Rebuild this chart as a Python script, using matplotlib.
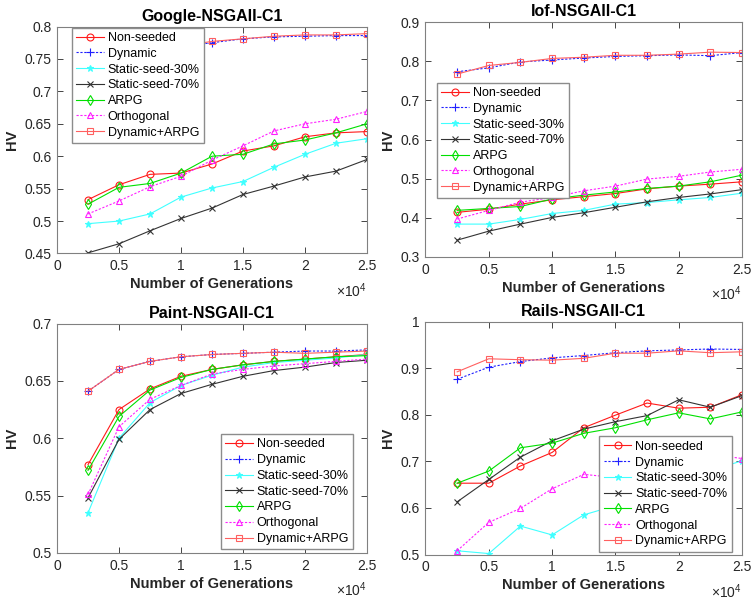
import matplotlib
matplotlib.use('Agg')
import matplotlib.pyplot as plt
from matplotlib.ticker import FuncFormatter

plt.rcParams['font.family'] = ['Liberation Sans', 'DejaVu Sans']
plt.rcParams['mathtext.fontset'] = 'custom'
plt.rcParams['mathtext.rm'] = 'Liberation Sans'
plt.rcParams['mathtext.it'] = 'Liberation Sans:italic'

# ---- data -------------------------------------------------------------
generations = [2500, 5000, 7500, 10000, 12500, 15000, 17500, 20000, 22500, 25000]
series_names = ['Non-seeded', 'Dynamic', 'Static-seed-30%', 'Static-seed-70%',
                'ARPG', 'Orthogonal', 'Dynamic+ARPG']

google_non_seeded = [0.533, 0.556, 0.572, 0.574, 0.588, 0.608, 0.616, 0.630, 0.636, 0.638]
google_dynamic = [0.735, 0.752, 0.762, 0.769, 0.775, 0.781, 0.784, 0.785, 0.786, 0.786]
google_static30 = [0.496, 0.500, 0.511, 0.537, 0.551, 0.561, 0.583, 0.603, 0.620, 0.627]
google_static70 = [0.451, 0.465, 0.485, 0.504, 0.520, 0.541, 0.554, 0.568, 0.577, 0.595]
google_arpg = [0.526, 0.552, 0.558, 0.574, 0.600, 0.603, 0.619, 0.625, 0.636, 0.650]
google_orthogonal = [0.511, 0.531, 0.553, 0.569, 0.594, 0.616, 0.639, 0.650, 0.657, 0.669]
google_dyn_arpg = [0.738, 0.754, 0.764, 0.770, 0.777, 0.781, 0.785, 0.787, 0.787, 0.789]

iof_non_seeded = [0.414, 0.422, 0.435, 0.446, 0.454, 0.462, 0.474, 0.481, 0.486, 0.492]
iof_dynamic = [0.773, 0.783, 0.798, 0.803, 0.808, 0.812, 0.814, 0.816, 0.814, 0.822]
iof_static30 = [0.384, 0.384, 0.396, 0.411, 0.419, 0.435, 0.439, 0.446, 0.452, 0.463]
iof_static70 = [0.343, 0.366, 0.384, 0.401, 0.413, 0.427, 0.441, 0.452, 0.461, 0.472]
iof_arpg = [0.419, 0.424, 0.429, 0.448, 0.458, 0.466, 0.475, 0.481, 0.492, 0.509]
iof_orthogonal = [0.397, 0.419, 0.440, 0.452, 0.469, 0.481, 0.499, 0.506, 0.517, 0.524]
iof_dyn_arpg = [0.767, 0.789, 0.797, 0.807, 0.810, 0.815, 0.815, 0.818, 0.823, 0.822]

paint_non_seeded = [0.577, 0.625, 0.643, 0.654, 0.660, 0.664, 0.667, 0.669, 0.671, 0.673]
paint_dynamic = [0.641, 0.660, 0.667, 0.671, 0.673, 0.674, 0.675, 0.676, 0.676, 0.677]
paint_static30 = [0.535, 0.600, 0.631, 0.646, 0.655, 0.662, 0.666, 0.668, 0.670, 0.673]
paint_static70 = [0.548, 0.599, 0.625, 0.639, 0.647, 0.654, 0.659, 0.662, 0.666, 0.668]
paint_arpg = [0.572, 0.619, 0.642, 0.653, 0.660, 0.664, 0.667, 0.669, 0.671, 0.672]
paint_orthogonal = [0.551, 0.610, 0.634, 0.646, 0.656, 0.660, 0.663, 0.665, 0.667, 0.669]
paint_dyn_arpg = [0.641, 0.660, 0.667, 0.671, 0.673, 0.674, 0.675, 0.674, 0.675, 0.676]

rails_non_seeded = [0.653, 0.653, 0.690, 0.719, 0.772, 0.799, 0.825, 0.814, 0.816, 0.843]
rails_dynamic = [0.876, 0.902, 0.914, 0.922, 0.927, 0.933, 0.937, 0.939, 0.941, 0.940]
rails_static30 = [0.508, 0.502, 0.561, 0.542, 0.585, 0.605, 0.630, 0.655, 0.680, 0.701]
rails_static70 = [0.613, 0.661, 0.709, 0.744, 0.769, 0.785, 0.798, 0.832, 0.816, 0.841]
rails_arpg = [0.653, 0.679, 0.729, 0.739, 0.760, 0.772, 0.789, 0.804, 0.791, 0.806]
rails_orthogonal = [0.508, 0.569, 0.599, 0.641, 0.672, 0.665, 0.685, 0.700, 0.715, 0.706]
rails_dyn_arpg = [0.892, 0.920, 0.918, 0.917, 0.921, 0.932, 0.932, 0.937, 0.933, 0.935]

# ---- styles (MATLAB look) ---------------------------------------------
dot = (0, (2, 1.5))
styles = [
    dict(color='#ff1a1a', ls='-', marker='o', ms=5, mfc='none'),
    dict(color='#2020ff', ls=dot, marker='+', ms=6),
    dict(color='#40ffff', ls='-', marker='*', ms=5),
    dict(color='#333333', ls='-', marker='x', ms=4),
    dict(color='#00e000', ls='-', marker='d', ms=5, mfc='none'),
    dict(color='#ff20ff', ls=dot, marker='^', ms=5, mfc='none'),
    dict(color='#ff6060', ls='-', marker='s', ms=5, mfc='none'),
]

W, H = 752, 603


def px_axes(fig, x0, x1, y0, y1):
    # pixel box (top-left origin) -> figure coords
    return fig.add_axes([x0 / W, 1 - y1 / H, (x1 - x0) / W, (y1 - y0) / H])


def draw_panel(ax, title, data, ylim, yticks, ylabels, leg_loc, leg_anchor):
    for vals, name, st in zip(data, series_names, styles):
        ax.plot(generations, vals, label=name, lw=0.8, mew=0.8, **st)
    ax.set_xlim(0, 25000)
    ax.set_xticks([0, 5000, 10000, 15000, 20000, 25000])
    ax.xaxis.set_major_formatter(FuncFormatter(lambda v, p: '%g' % (v / 1e4)))
    ax.set_ylim(*ylim)
    ax.set_yticks(yticks)
    ax.set_yticklabels(ylabels)
    ax.tick_params(direction='in', top=True, right=True, length=4, width=0.6,
                   labelsize=10, colors='#262626', pad=4)
    for sp in ax.spines.values():
        sp.set_color('#808080')
        sp.set_linewidth(0.8)
    ax.set_title(title, fontsize=11.5, fontweight='bold', pad=4)
    ax.set_xlabel('Number of Generations', fontsize=10.5, fontweight='bold',
                  color='#262626', labelpad=3)
    ax.set_ylabel('HV', fontsize=10.5, fontweight='bold', color='#262626', labelpad=4)
    ax.annotate(r'$\times10^{4}$', xy=(1.0, 0.0), xycoords='axes fraction',
                xytext=(0, -37), textcoords='offset pixels',
                ha='right', va='center', fontsize=10, color='#262626')
    leg = ax.legend(loc=leg_loc, bbox_to_anchor=leg_anchor, fontsize=9,
                    borderaxespad=0, borderpad=0.35, labelspacing=0.3,
                    handlelength=2.2, handletextpad=0.3, fancybox=False,
                    framealpha=1, edgecolor='#8c8c8c')
    leg.get_frame().set_linewidth(1.0)


fig = plt.figure(figsize=(W / 100, H / 100), dpi=100, facecolor='white')

ax1 = px_axes(fig, 57, 367, 26.5, 253.5)
draw_panel(ax1, 'Google-NSGAII-C1',
           [google_non_seeded, google_dynamic, google_static30, google_static70,
            google_arpg, google_orthogonal, google_dyn_arpg],
           (0.45, 0.8), [0.45, 0.5, 0.55, 0.6, 0.65, 0.7, 0.75, 0.8],
           ['0.45', '0.5', '0.55', '0.6', '0.65', '0.7', '0.75', '0.8'],
           'upper left', (0.048, 0.995))

ax2 = px_axes(fig, 425.5, 742, 22, 257)
draw_panel(ax2, 'Iof-NSGAII-C1',
           [iof_non_seeded, iof_dynamic, iof_static30, iof_static70,
            iof_arpg, iof_orthogonal, iof_dyn_arpg],
           (0.3, 0.9), [0.3, 0.4, 0.5, 0.6, 0.7, 0.8, 0.9],
           ['0.3', '0.4', '0.5', '0.6', '0.7', '0.8', '0.9'],
           'upper left', (0.036, 0.742))

ax3 = px_axes(fig, 57, 367, 323.5, 553)
draw_panel(ax3, 'Paint-NSGAII-C1',
           [paint_non_seeded, paint_dynamic, paint_static30, paint_static70,
            paint_arpg, paint_orthogonal, paint_dyn_arpg],
           (0.5, 0.7), [0.5, 0.55, 0.6, 0.65, 0.7],
           ['0.5', '0.55', '0.6', '0.65', '0.7'],
           'lower right', (0.955, 0.016))

ax4 = px_axes(fig, 425.5, 742, 321.5, 554.5)
draw_panel(ax4, 'Rails-NSGAII-C1',
           [rails_non_seeded, rails_dynamic, rails_static30, rails_static70,
            rails_arpg, rails_orthogonal, rails_dyn_arpg],
           (0.5, 1.0), [0.5, 0.6, 0.7, 0.8, 0.9, 1.0],
           ['0.5', '0.6', '0.7', '0.8', '0.9', '1'],
           'lower right', (0.967, 0.012))

fig.savefig('out.png', dpi=100, facecolor='white')
